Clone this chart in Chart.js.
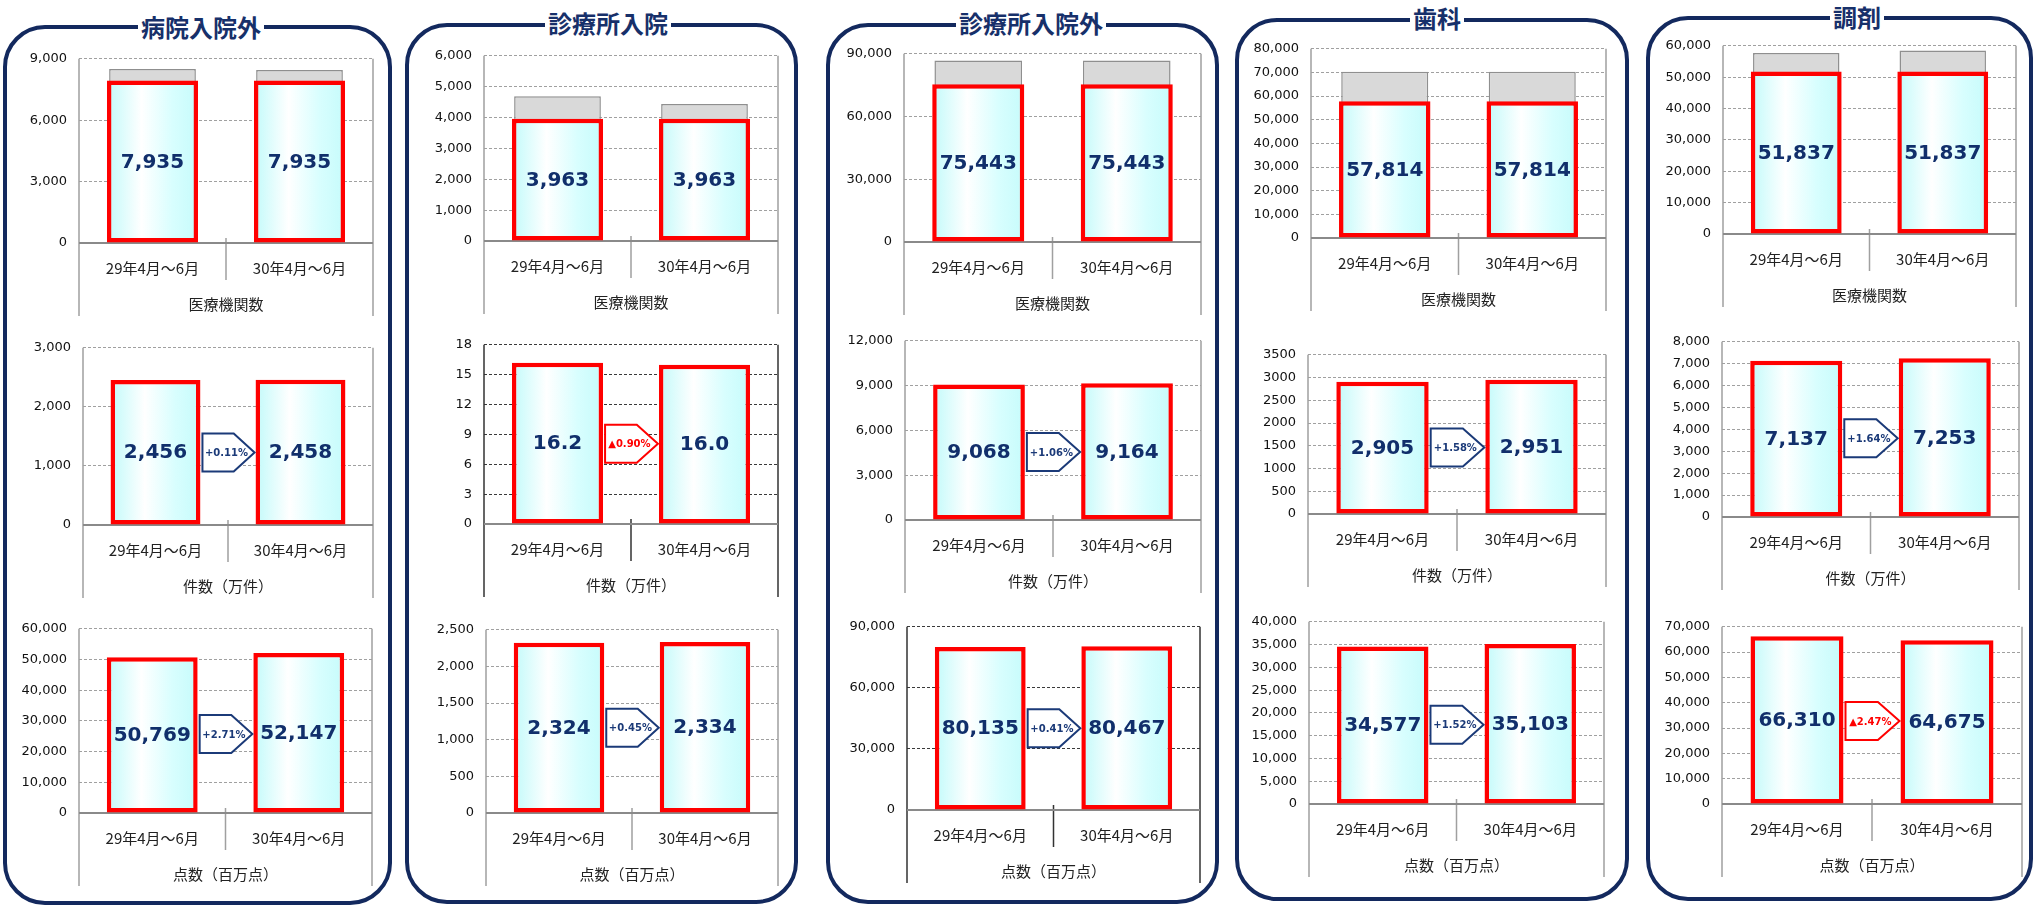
<!DOCTYPE html>
<html>
<head>
<meta charset="utf-8">
<script src="https://cdn.jsdelivr.net/npm/chart.js@4.4.0/dist/chart.umd.min.js"></script>
<style>
html, body { margin: 0; padding: 0; background: #fff; width: 2033px; height: 905px; overflow: hidden; position: relative; }
.panel { position: absolute; border: 4px solid #13295e; border-radius: 42px; box-sizing: border-box; }
.ttl { position: absolute; transform: translate(-50%, -50%); background: #fff; padding: 0 3px; font: bold 24px 'Noto Sans CJK JP'; color: #17306a; white-space: nowrap; line-height: 1; }
canvas { position: absolute; }
</style>
</head>
<body>
<script>
// 共通ラベル
const periods = ['29年4月～6月', '30年4月～6月'];
const panelTitles = ['病院入院外', '診療所入院', '診療所入院外', '歯科', '調剤'];
const measureNames = ['医療機関数', '件数（万件）', '点数（百万点）'];

// 医療機関数（赤枠）と背後の灰色の棒
const facilities = [[7935, 7935], [3963, 3963], [75443, 75443], [57814, 57814], [51837, 51837]];
const facilitiesGray = [[8500, 8450], [4690, 4440], [86800, 86800], [70300, 70300], [57700, 58500]];
// 件数
const claims = [[2456, 2458], [16.2, 16.0], [9068, 9164], [2905, 2951], [7137, 7253]];
const claimsChange = ['+0.11%', '▲0.90%', '+1.06%', '+1.58%', '+1.64%'];
// 点数
const points = [[50769, 52147], [2324, 2334], [80135, 80467], [34577, 35103], [66310, 64675]];
const pointsChange = ['+2.71%', '+0.45%', '+0.41%', '+1.52%', '▲2.47%'];

// 軸の目盛
const axisMax = [[9000, 3000, 60000], [6000, 18, 2500], [90000, 12000, 90000], [80000, 3500, 40000], [60000, 8000, 70000]];
const axisStep = [[3000, 1000, 10000], [1000, 3, 500], [30000, 3000, 30000], [10000, 500, 5000], [10000, 1000, 10000]];

// 配置（left, right, top, bottom, titleX, titleY）
const panelBoxes = [
    [5, 390, 27, 903, 201, 27],
    [407, 796, 25, 902, 608, 23],
    [828, 1217, 25, 902, 1031, 23],
    [1237, 1627, 20, 899, 1437, 18],
    [1648, 2031, 18, 899, 1857, 17]
];
// グラフ領域（left, right, top, bottom）
const plotBoxes = [
    [[79, 373, 51, 243], [83, 373, 340, 525], [79, 372, 621, 813]],
    [[484, 778, 48, 241], [484, 778, 337, 524], [486, 778, 622, 813]],
    [[904, 1201, 46, 242], [905, 1201, 333, 520], [907, 1200, 619, 810]],
    [[1311, 1606, 41, 238], [1308, 1606, 347, 514], [1309, 1604, 614, 804]],
    [[1723, 2016, 38, 234], [1722, 2019, 334, 517], [1722, 2022, 619, 804]]
];
const darkGrid = { '1-1': true, '2-2': true };

const NAVY = '#112f6b';
const PAD_L = 80, PAD_T = 12, PAD_R = 6, PAD_B = 76;
const BAR_PCT = 0.62;

// 棒の水色グラデーション
function cyanGrad(c) {
    const xs = c.chart.scales.x;
    if (!xs || c.dataIndex === undefined) return '#e0ffff';
    const cx = xs.getPixelForValue(c.dataIndex);
    const w = (xs.width / periods.length) * BAR_PCT;
    if (!isFinite(cx) || !isFinite(w) || w <= 0) return '#e0ffff';
    const g = c.chart.ctx.createLinearGradient(cx - w / 2, 0, cx + w / 2, 0);
    g.addColorStop(0, '#c2fafa');
    g.addColorStop(0.38, '#ffffff');
    g.addColorStop(0.72, '#d8fefe');
    g.addColorStop(1, '#c6fbfb');
    return g;
}

// 枠線・軸ラベル・数値・矢印
const extras = {
    id: 'extras',
    beforeDatasetsDraw(chart, args, o) {
        const { ctx, chartArea: a } = chart;
        ctx.save();
        ctx.strokeStyle = o.dark ? '#333' : '#a0a0a0';
        ctx.lineWidth = 1.5;
        ctx.beginPath();
        ctx.moveTo(a.left, a.top); ctx.lineTo(a.left, a.bottom + 73);
        ctx.moveTo(a.right, a.top); ctx.lineTo(a.right, a.bottom + 73);
        const mid = (a.left + a.right) / 2;
        ctx.moveTo(mid, a.bottom - 5); ctx.lineTo(mid, a.bottom + 37);
        ctx.stroke();
        ctx.strokeStyle = '#8a8a8a';
        ctx.lineWidth = 2;
        ctx.beginPath();
        ctx.moveTo(a.left, a.bottom); ctx.lineTo(a.right, a.bottom);
        ctx.stroke();
        ctx.restore();
    },
    afterDatasetsDraw(chart, args, o) {
        const { ctx, chartArea: a } = chart;
        const bars = chart.getDatasetMeta(0).data;
        const vals = chart.data.datasets[0].data;
        ctx.save();
        ctx.textAlign = 'center';
        ctx.textBaseline = 'middle';

        // 矢印
        if (o.change) {
            const neg = o.change.startsWith('▲');
            const col = neg ? '#ff0000' : '#1b3a78';
            const x0 = bars[0].x + bars[0].width / 2 + 2;
            const x1 = bars[1].x - bars[1].width / 2 - 1;
            const xb = x0 + (x1 - x0) * 0.6;
            const cy = chart.scales.y.getPixelForValue((vals[0] + vals[1]) / 4);
            const h = 38;
            ctx.beginPath();
            ctx.moveTo(x0, cy - h / 2);
            ctx.lineTo(xb, cy - h / 2);
            ctx.lineTo(x1, cy);
            ctx.lineTo(xb, cy + h / 2);
            ctx.lineTo(x0, cy + h / 2);
            ctx.closePath();
            ctx.fillStyle = '#fff';
            ctx.fill();
            ctx.strokeStyle = col;
            ctx.lineWidth = 2;
            ctx.stroke();
            ctx.fillStyle = col;
            ctx.font = 'bold 10px "DejaVu Sans"';
            ctx.fillText(o.change, x0 + (x1 - x0) * 0.46, cy + 1);
        }

        // 棒の中の数値
        ctx.fillStyle = NAVY;
        ctx.font = 'bold 20px "DejaVu Sans"';
        bars.forEach((b, i) => {
            const v = vals[i];
            const txt = o.decimals ? v.toFixed(o.decimals) : v.toLocaleString('en-US');
            ctx.fillText(txt, b.x, (b.y + b.base) / 2 + 1);
        });

        // 期間ラベルと項目名
        const xs = chart.scales.x;
        ctx.fillStyle = '#222';
        ctx.font = '15px "Noto Sans CJK JP"';
        periods.forEach((p, i) => ctx.fillText(p, xs.getPixelForValue(i), a.bottom + 25));
        ctx.fillText(o.group, (a.left + a.right) / 2, a.bottom + 61);
        ctx.restore();
    }
};

function makeChart(p, m) {
    const [L, R, T, B] = plotBoxes[p][m];
    const w = R - L + PAD_L + PAD_R;
    const h = B - T + PAD_T + PAD_B;
    const cv = document.createElement('canvas');
    cv.width = w; cv.height = h;
    cv.style.left = (L - PAD_L) + 'px';
    cv.style.top = (T - PAD_T) + 'px';
    cv.style.width = w + 'px';
    cv.style.height = h + 'px';
    document.body.appendChild(cv);

    const series = [facilities, claims, points][m][p];
    const change = m === 0 ? null : [null, claimsChange, pointsChange][m][p];
    const dark = !!darkGrid[p + '-' + m];
    const noComma = p === 3 && m === 1;

    const datasets = [{
        data: series,
        backgroundColor: cyanGrad,
        borderColor: '#ff0000',
        borderWidth: 4.5,
        borderSkipped: false,
        barPercentage: BAR_PCT,
        categoryPercentage: 1,
        grouped: false
    }];
    if (m === 0) {
        datasets.push({
            data: facilitiesGray[p],
            backgroundColor: '#d9d9d9',
            borderColor: '#8f8f8f',
            borderWidth: 1.5,
            borderSkipped: false,
            barPercentage: 0.59,
            categoryPercentage: 1,
            grouped: false
        });
    }

    new Chart(cv, {
        type: 'bar',
        data: { labels: periods, datasets },
        options: {
            responsive: false,
            animation: false,
            events: [],
            layout: { padding: { left: 0, top: PAD_T, right: PAD_R, bottom: PAD_B } },
            plugins: {
                legend: { display: false },
                tooltip: { enabled: false },
                extras: { change, dark, group: measureNames[m], decimals: (p === 1 && m === 1) ? 1 : 0 }
            },
            scales: {
                x: {
                    afterFit: s => { s.height = 0; },
                    ticks: { display: false },
                    grid: { display: false },
                    border: { display: false }
                },
                y: {
                    min: 0,
                    max: axisMax[p][m],
                    afterFit: s => { s.width = PAD_L; },
                    border: { display: false, dash: [3, 2] },
                    grid: { color: dark ? '#3a3a3a' : '#a0a0a0', lineWidth: 1, drawTicks: false },
                    ticks: {
                        stepSize: axisStep[p][m],
                        padding: 12,
                        color: '#111',
                        font: { family: 'DejaVu Sans', size: 13 },
                        callback: v => noComma ? String(v) : v.toLocaleString('en-US')
                    }
                }
            }
        },
        plugins: [extras]
    });
}

// パネル枠とタイトル
panelBoxes.forEach(([l, r, t, b, tx, ty], p) => {
    const d = document.createElement('div');
    d.className = 'panel';
    d.style.left = (l - 2) + 'px';
    d.style.top = (t - 2) + 'px';
    d.style.width = (r - l + 4) + 'px';
    d.style.height = (b - t + 4) + 'px';
    document.body.appendChild(d);
    const s = document.createElement('div');
    s.className = 'ttl';
    s.style.left = tx + 'px';
    s.style.top = ty + 'px';
    s.textContent = panelTitles[p];
    document.body.appendChild(s);
});

for (let p = 0; p < 5; p++) {
    for (let m = 0; m < 3; m++) makeChart(p, m);
}
</script>
</body>
</html>
